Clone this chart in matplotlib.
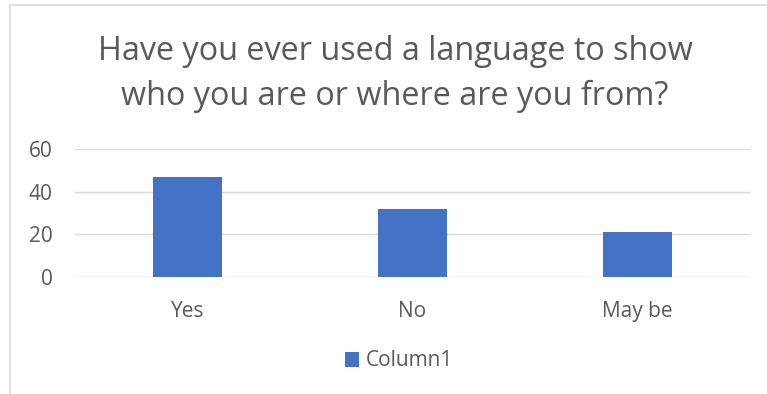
import matplotlib.pyplot as plt
from matplotlib.patches import Rectangle

categories = ['Yes', 'No', 'May be']
values = [47, 32, 21]
series_name = 'Column1'
title = 'Have you ever used a language to show\nwho you are or where are you from?'

plt.rcParams['font.family'] = ['Open Sans', 'DejaVu Sans']
txt = '#595959'

fig = plt.figure(figsize=(7.67, 3.94), dpi=100)
# chart frame (light gray, only left/top visible in the crop)
fig.patches.append(Rectangle((10 / 767, -0.1), 1.1, (389 / 394) + 0.1,
                             transform=fig.transFigure, fill=False,
                             edgecolor='#d9d9d9', linewidth=1.2))

ax = fig.add_axes([75 / 767, 1 - 277 / 394, 675 / 767, 128 / 394])
bars = ax.bar(range(len(categories)), values, width=0.31, color='#4472C4',
              label=series_name, zorder=3)
ax.set_xlim(-0.5, len(categories) - 0.5)
ax.set_ylim(0, 60)
ax.set_yticks([0, 20, 40, 60])
ax.set_xticks(range(len(categories)))
ax.set_xticklabels(categories)
ax.grid(axis='y', color='#d9d9d9', linewidth=1, zorder=0)
for s in ax.spines.values():
    s.set_visible(False)
ax.tick_params(length=0, labelsize=15, colors=txt)
ax.tick_params(axis='y', pad=16)
ax.tick_params(axis='x', pad=17)

fig.text(395 / 767, 1 - 74 / 394, title, ha='center', va='center',
         fontsize=23.3, color=txt, linespacing=1.45)

fig.legend(handles=[bars], labels=[series_name], loc='center',
           bbox_to_anchor=(399 / 767, 1 - 361 / 394), frameon=False,
           fontsize=15, labelcolor=txt, handlelength=0.7, handleheight=0.7,
           handletextpad=0.3)

fig.savefig('out.png', dpi=100, facecolor='white')
